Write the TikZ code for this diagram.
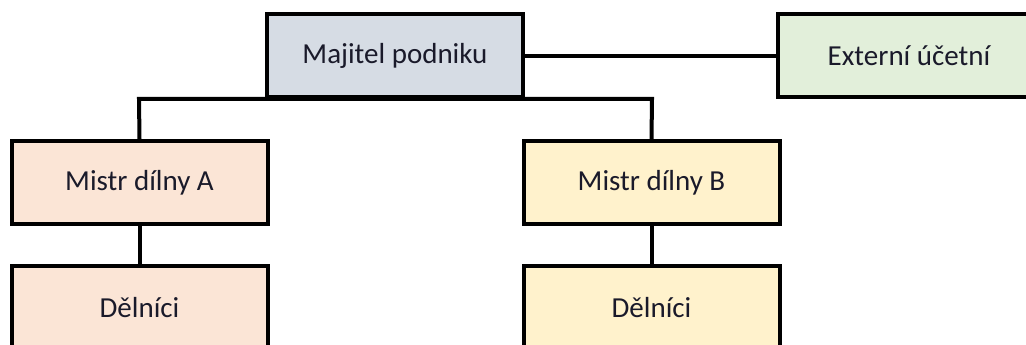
\documentclass[tikz,border=0pt]{standalone}
\usepackage{fontspec}
\setmainfont{Carlito}
\definecolor{ownerfill}{HTML}{D6DCE4}
\definecolor{accfill}{HTML}{E2EFDA}
\definecolor{afill}{HTML}{FBE5D6}
\definecolor{bfill}{HTML}{FFF2CC}
\definecolor{txt}{HTML}{1A1A2A}
\tikzset{
  orgbox/.style={draw=black, line width=4pt, rectangle, minimum width=256pt,
    minimum height=83pt, inner sep=0pt, text=txt,
    font=\fontsize{29}{34}\selectfont},
  link/.style={draw=black, line width=4pt}
}
\begin{document}
\begin{tikzpicture}[x=1pt, y=-1pt]
  \useasboundingbox (0,0) rectangle (1026,345);
  \begin{scope}
    \clip (0,0) rectangle (1026,345);
    % connectors
    \coordinate (hl) at (139,99);
    \coordinate (hr) at (652,99);
    \node[orgbox, fill=ownerfill] (owner) at (395,56) {Majitel podniku};
    \node[orgbox, fill=accfill, minimum width=262pt] (acct) at (909,56) {Externí účetní};
    \node[orgbox, fill=afill] (ma) at (139.5,182.5) {Mistr dílny A};
    \node[orgbox, fill=bfill] (mb) at (651.5,182.5) {Mistr dílny B};
    \node[orgbox, fill=afill] (wa) at (139.5,307.5) {Dělníci};
    \node[orgbox, fill=bfill] (wb) at (651.5,307.5) {Dělníci};
    \draw[link] (owner) -- (acct);
    \draw[link] (ma.north) -- (hl) -- (hr) -- (mb.north);
    \draw[link] (ma) -- (wa);
    \draw[link] (mb) -- (wb);
  \end{scope}
\end{tikzpicture}
\end{document}
